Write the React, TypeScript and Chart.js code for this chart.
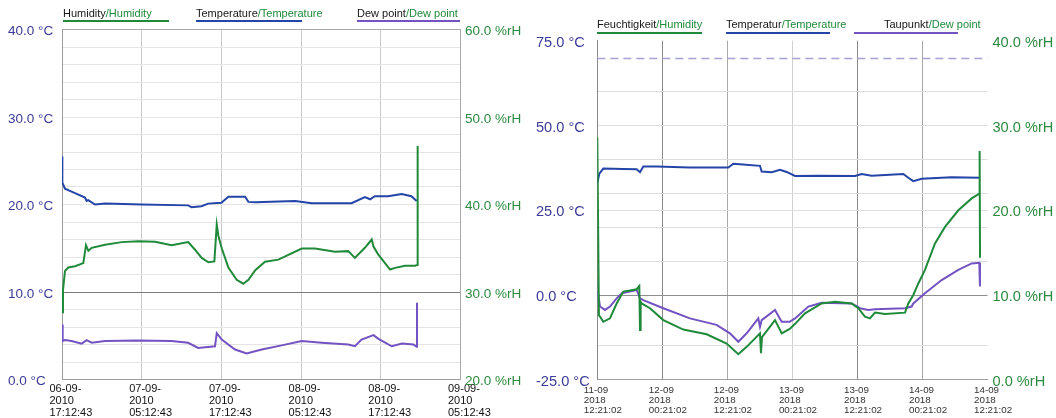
import { useEffect, useRef } from "react";
import { Chart, registerables } from "chart.js";

Chart.register(...registerables);

const FONT = '"Liberation Sans", Arial, Helvetica, sans-serif';

const BLUE = "#2444a8";
const GREEN = "#1f8a3a";
const PURPLE = "#7352c2";
const AXIS_C = "#3b3b98";
const AXIS_RH = "#2d8a40";

// ---------- Panel 1: 06-09-2010 .. 09-09-2010 (hours since first tick) ----------
const p1TickHours = [0, 12, 24, 36, 48, 60];
const p1TickLabels = [
  ["06-09-", "2010", "17:12:43"],
  ["07-09-", "2010", "05:12:43"],
  ["07-09-", "2010", "17:12:43"],
  ["08-09-", "2010", "05:12:43"],
  ["08-09-", "2010", "17:12:43"],
  ["09-09-", "2010", "05:12:43"],
];
const p1KeyNames = ["Humidity", "Temperature", "Dew point"];
const p1KeyAlt = ["Humidity", "Temperature", "Dew point"];

const p1HumHours = [0, 0.15, 0.45, 0.95, 1.96, 3.21, 3.61, 3.97, 4.47, 6.48, 8.99, 11.5, 14.0, 16.5, 19.0, 20.0, 21.03, 22.04, 22.94, 23.3, 23.55, 24.05, 25.05, 26.3, 27.3, 28.07, 29.1, 30.57, 32.58, 36.1, 38.1, 41.1, 43.1, 44.1, 45.6, 46.63, 46.9, 47.6, 49.4, 50.15, 51.65, 53.16, 53.5, 53.55];
const p1HumValues = [27.7, 30.2, 32.4, 32.8, 32.95, 33.3, 35.35, 34.7, 35.05, 35.4, 35.7, 35.8, 35.75, 35.35, 35.7, 34.86, 33.9, 33.4, 33.5, 37.7, 36.4, 35.0, 32.8, 31.4, 30.95, 31.4, 32.5, 33.45, 33.7, 34.97, 34.97, 34.6, 34.67, 33.9, 35.05, 36.0, 35.2, 34.3, 32.57, 32.76, 33.0, 33.0, 33.1, 46.7];

const p1TempHours = [0, 0.05, 0.45, 1.96, 3.46, 3.7, 3.96, 4.97, 6.5, 12, 19, 19.5, 21, 22, 24, 25.05, 27.56, 28.07, 29.1, 35.1, 37.6, 43.6, 45.6, 46.4, 47.1, 49.1, 51.15, 52.6, 53.4];
const p1TempValues = [25.5, 22.5, 21.8, 21.3, 20.8, 20.4, 20.5, 20.0, 20.1, 20.0, 19.9, 19.7, 19.8, 20.1, 20.2, 20.9, 20.9, 20.3, 20.27, 20.4, 20.15, 20.15, 20.85, 20.6, 20.95, 20.95, 21.2, 20.95, 20.4];

const p1DewHours = [0, 0.1, 0.45, 1.45, 2.96, 3.71, 4.47, 6.48, 11.5, 16.5, 19.0, 20.5, 23.04, 23.3, 24.05, 26.05, 27.8, 30.07, 33.08, 36.1, 39.1, 43.1, 44.1, 45.1, 46.9, 47.65, 49.65, 51.2, 52.9, 53.4, 53.45];
const p1DewValues = [6.3, 4.4, 4.5, 4.4, 4.1, 4.5, 4.2, 4.4, 4.46, 4.4, 4.2, 3.6, 3.8, 5.3, 4.57, 3.43, 2.97, 3.43, 3.9, 4.4, 4.2, 4.0, 3.8, 4.57, 5.07, 4.65, 3.8, 4.1, 4.0, 3.73, 8.76];

// ---------- Panel 2: 11-09-2018 .. 14-09-2018 ----------
const p2TickHours = [0, 12, 24, 36, 48, 60, 72];
const p2TickLabels = [
  ["11-09", "2018", "12:21:02"],
  ["12-09", "2018", "00:21:02"],
  ["12-09", "2018", "12:21:02"],
  ["13-09", "2018", "00:21:02"],
  ["13-09", "2018", "12:21:02"],
  ["14-09", "2018", "00:21:02"],
  ["14-09", "2018", "12:21:02"],
];
const p2TempGrid = [-25, -15, 0, 10, 20, 25, 30, 40, 50, 60, 75];
const p2TempLimit = 70;
const p2KeyNames = ["Feuchtigkeit", "Temperatur", "Taupunkt"];
const p2KeyAlt = ["Humidity", "Temperature", "Dew point"];

const p2HumHours = [0, 0.3, 0.5, 1.11, 2.34, 3.57, 4.8, 6.03, 7.26, 7.75, 7.88, 8.0, 8.18, 9.72, 12.18, 15.87, 20.18, 23.87, 26.02, 27.56, 30.02, 30.2, 30.39, 32.79, 33.71, 34.02, 35.5, 36.5, 38.32, 41.4, 43.86, 46.93, 48.16, 49.39, 50.31, 51.24, 53.08, 56.78, 57.39, 58.31, 59.24, 60.46, 62.31, 64.16, 66.62, 69.08, 70.49, 70.55, 70.62];
const p2HumValues = [28.6, 7.6, 7.44, 6.84, 7.24, 9.0, 10.4, 10.52, 10.68, 11.06, 5.88, 9.2, 9.0, 8.44, 7.04, 5.92, 5.36, 4.28, 3.02, 3.88, 5.48, 3.12, 5.04, 7.04, 5.88, 5.48, 6.0, 6.6, 7.84, 9.0, 9.2, 9.0, 8.44, 7.44, 7.24, 7.92, 7.76, 7.92, 9.0, 10.0, 11.36, 12.96, 16.08, 18.04, 20.0, 21.4, 21.96, 27.0, 14.4];

const p2TempHours = [0, 0.38, 1.11, 4.8, 7.26, 7.88, 8.49, 10.95, 17.1, 24.18, 25.1, 26.33, 30.02, 30.33, 32.2, 33.71, 34.94, 36.48, 40.78, 47.55, 48.78, 50.62, 56.47, 57.39, 58.31, 59.85, 65.39, 70.61];
const p2TempValues = [33.0, 35.8, 37.3, 37.2, 37.1, 36.2, 37.9, 37.9, 37.6, 37.6, 38.7, 38.6, 38.1, 36.4, 36.2, 36.9, 36.3, 35.1, 35.2, 35.1, 35.7, 35.2, 35.7, 34.6, 33.6, 34.3, 34.7, 34.6];

const p2DewHours = [0.1, 0.5, 1.42, 2.34, 3.57, 4.5, 7.26, 7.88, 8.49, 12.18, 17.1, 22.0, 24.48, 26.02, 27.56, 29.71, 30.02, 30.33, 32.79, 34.02, 35.5, 36.48, 38.94, 41.4, 46.93, 48.47, 50.0, 51.24, 56.78, 58.0, 58.31, 60.46, 63.54, 66.62, 69.08, 70.49, 70.61];
const p2DewValues = [1.0, -3.4, -4.4, -3.4, -1.0, 0.5, 1.5, -1.0, -1.5, -3.9, -6.9, -8.8, -11.3, -13.8, -11.3, -6.9, -9.4, -7.4, -4.4, -7.9, -7.9, -6.9, -3.4, -2.3, -2.5, -3.9, -4.4, -4.2, -3.9, -3.4, -2.5, 0.5, 4.4, 7.4, 9.3, 9.5, 2.5];

const toPoints = (xs: number[], ys: number[]) => xs.map((x, i) => ({ x, y: ys[i] }));

const ticksAt = (vals: number[]) => (scale: any) => {
  scale.ticks = vals.map((value) => ({ value }));
};

type KeyItem = { name: string; alt: string; color: string; x: number; from: number; to: number };

// Draws the two-language series key above the plot.
const keyPlugin = (items: KeyItem[], textY: number, lineY: number) => ({
  id: "seriesKey",
  afterDraw(chart: any) {
    const ctx = chart.ctx as CanvasRenderingContext2D;
    ctx.save();
    ctx.font = `11px ${FONT}`;
    ctx.textBaseline = "middle";
    ctx.textAlign = "left";
    for (const it of items) {
      ctx.fillStyle = "#161616";
      ctx.fillText(it.name, it.x, textY);
      const w = ctx.measureText(it.name).width;
      ctx.fillStyle = GREEN;
      ctx.fillText("/" + it.alt, it.x + w, textY);
      ctx.strokeStyle = it.color;
      ctx.lineWidth = 2;
      ctx.beginPath();
      ctx.moveTo(it.from, lineY);
      ctx.lineTo(it.to, lineY);
      ctx.stroke();
    }
    ctx.restore();
  },
});

// Dashed limit line on the temperature scale.
const limitPlugin = (value: number) => ({
  id: "limitLine",
  beforeDatasetsDraw(chart: any) {
    const { ctx, chartArea } = chart;
    const y = chart.scales.y.getPixelForValue(value);
    ctx.save();
    ctx.strokeStyle = "#a4a4d4";
    ctx.lineWidth = 1.3;
    ctx.setLineDash([8, 5]);
    ctx.beginPath();
    ctx.moveTo(chartArea.left, Math.round(y) + 0.5);
    ctx.lineTo(chartArea.right, Math.round(y) + 0.5);
    ctx.stroke();
    ctx.restore();
  },
});

const series = (hum: any[], temp: any[], dew: any[]) => [
  { label: "Humidity", data: hum, yAxisID: "y2", borderColor: GREEN, borderWidth: 2, pointRadius: 0, tension: 0, fill: false },
  { label: "Temperature", data: temp, yAxisID: "y", borderColor: BLUE, borderWidth: 2, pointRadius: 0, tension: 0, fill: false },
  { label: "Dew point", data: dew, yAxisID: "y", borderColor: PURPLE, borderWidth: 2, pointRadius: 0, tension: 0, fill: false },
];

function firstConfig(): any {
  const tempTicks: number[] = [];
  for (let v = 0; v <= 40; v += 2) tempTicks.push(v);
  return {
    type: "line",
    data: {
      datasets: series(
        toPoints(p1HumHours, p1HumValues),
        toPoints(p1TempHours, p1TempValues),
        toPoints(p1DewHours, p1DewValues)
      ),
    },
    options: {
      responsive: false,
      animation: false,
      devicePixelRatio: 1,
      events: [],
      layout: { padding: { left: 8, top: 29.5, right: 0, bottom: 0 }, autoPadding: false },
      plugins: { legend: { display: false }, tooltip: { enabled: false } },
      scales: {
        x: {
          type: "linear",
          min: 0,
          max: 60,
          afterBuildTicks: ticksAt(p1TickHours),
          afterFit: (s: any) => { s.height = 38.5; },
          border: { color: "#9c9c9c" },
          grid: { drawTicks: false, color: (c: any) => (c.tick && c.tick.value === 0 ? "#9c9c9c" : "#cacaca") },
          ticks: {
            autoSkip: false,
            maxRotation: 0,
            align: "start",
            labelOffset: -12.5,
            padding: 4,
            color: "#111",
            font: { family: FONT, size: 11, lineHeight: 1.06 },
            callback: (_v: any, i: number) => p1TickLabels[i],
          },
        },
        y: {
          position: "left",
          min: 0,
          max: 40,
          afterBuildTicks: ticksAt(tempTicks),
          afterFit: (s: any) => { s.width = 54; },
          border: { color: "#9c9c9c" },
          grid: {
            drawTicks: false,
            color: (c: any) => {
              const v = c.tick ? c.tick.value : -1;
              if (v === 10) return "#7c7c7c";
              if (v === 40) return "#a8a8a8";
              return "#e4e4e4";
            },
          },
          ticks: {
            autoSkip: false,
            crossAlign: "far",
            labelOffset: 2,
            color: AXIS_C,
            font: { family: FONT, size: 13.5 },
            callback: (v: number) => (v % 10 === 0 ? `${v.toFixed(1)} °C` : ""),
          },
        },
        y2: {
          position: "right",
          min: 20,
          max: 60,
          afterBuildTicks: ticksAt([20, 30, 40, 50, 60]),
          afterFit: (s: any) => { s.width = 67.5; },
          border: { color: "#a8a8a8" },
          grid: { drawOnChartArea: false, drawTicks: false },
          ticks: {
            autoSkip: false,
            crossAlign: "near",
            padding: 4.5,
            labelOffset: 2,
            color: AXIS_RH,
            font: { family: FONT, size: 13.5 },
            callback: (v: number) => `${v.toFixed(1)} %rH`,
          },
        },
      },
    },
    plugins: [
      keyPlugin(
        [
          { name: p1KeyNames[0], alt: p1KeyAlt[0], color: GREEN, x: 63, from: 63, to: 169 },
          { name: p1KeyNames[1], alt: p1KeyAlt[1], color: BLUE, x: 196, from: 196, to: 302 },
          { name: p1KeyNames[2], alt: p1KeyAlt[2], color: PURPLE, x: 357, from: 357, to: 460 },
        ],
        14,
        21
      ),
    ],
  };
}

function secondConfig(): any {
  const vGrid = ["#8a8a8a", "#8a8a8a", "#a8a8a8", "#d0d0d0", "#8a8a8a", "#a8a8a8", "rgba(0,0,0,0)"];
  return {
    type: "line",
    data: {
      datasets: series(
        toPoints(p2HumHours, p2HumValues),
        toPoints(p2TempHours, p2TempValues),
        toPoints(p2DewHours, p2DewValues)
      ),
    },
    options: {
      responsive: false,
      animation: false,
      devicePixelRatio: 1,
      events: [],
      layout: { padding: { left: 8, top: 40.75, right: 0, bottom: 0 }, autoPadding: false },
      plugins: { legend: { display: false }, tooltip: { enabled: false } },
      scales: {
        x: {
          type: "linear",
          min: 0,
          max: 72,
          afterBuildTicks: ticksAt(p2TickHours),
          afterFit: (s: any) => { s.height = 38.25; },
          border: { color: "#a0a0a0" },
          grid: { drawTicks: false, color: (c: any) => vGrid[c.index] || "#d0d0d0" },
          ticks: {
            autoSkip: false,
            maxRotation: 0,
            align: "start",
            labelOffset: -13.5,
            padding: 5.5,
            color: "#333",
            font: { family: FONT, size: 9.8, lineHeight: 1.03 },
            callback: (_v: any, i: number) => p2TickLabels[i],
          },
        },
        y: {
          position: "left",
          min: -25,
          max: 75,
          afterBuildTicks: ticksAt(p2TempGrid),
          afterFit: (s: any) => { s.width = 61.3; },
          border: { color: "#8a8a8a" },
          grid: {
            drawTicks: false,
            color: (c: any) => {
              const v = c.tick ? c.tick.value : 0;
              if (v === 0) return "#8e8e8e";
              if (v === -25 || v === 75) return "rgba(0,0,0,0)";
              return "#dedede";
            },
          },
          ticks: {
            autoSkip: false,
            crossAlign: "far",
            labelOffset: 2,
            color: AXIS_C,
            font: { family: FONT, size: 14.6 },
            callback: (v: number) => (v % 25 === 0 ? `${v.toFixed(1)} °C` : ""),
          },
        },
        y2: {
          position: "right",
          min: 0,
          max: 40,
          afterBuildTicks: ticksAt([0, 10, 20, 30, 40]),
          afterFit: (s: any) => { s.width = 68.5; },
          border: { display: false },
          grid: { drawOnChartArea: false, drawTicks: false },
          ticks: {
            autoSkip: false,
            crossAlign: "near",
            padding: 5,
            labelOffset: 2,
            color: AXIS_RH,
            font: { family: FONT, size: 14.6 },
            callback: (v: number) => `${v.toFixed(1)} %rH`,
          },
        },
      },
    },
    plugins: [
      limitPlugin(p2TempLimit),
      keyPlugin(
        [
          { name: p2KeyNames[0], alt: p2KeyAlt[0], color: GREEN, x: 69, from: 69, to: 174 },
          { name: p2KeyNames[1], alt: p2KeyAlt[1], color: BLUE, x: 198, from: 198, to: 302 },
          { name: p2KeyNames[2], alt: p2KeyAlt[2], color: PURPLE, x: 356, from: 326, to: 430 },
        ],
        25,
        33
      ),
    ],
  };
}

function Panel({ left, build }: { left: number; build: () => any }) {
  const ref = useRef<HTMLCanvasElement | null>(null);
  useEffect(() => {
    if (!ref.current) return;
    const chart = new Chart(ref.current, build());
    return () => chart.destroy();
  }, [build]);
  return (
    <canvas
      ref={ref}
      width={528}
      height={418}
      style={{ position: "absolute", left, top: 0, width: 528, height: 418, display: "block" }}
    />
  );
}

export default function App() {
  return (
    <div style={{ position: "absolute", left: 0, top: 0, width: 1056, height: 418, background: "#fff", overflow: "hidden" }}>
      <Panel left={0} build={firstConfig} />
      <Panel left={528} build={secondConfig} />
    </div>
  );
}
